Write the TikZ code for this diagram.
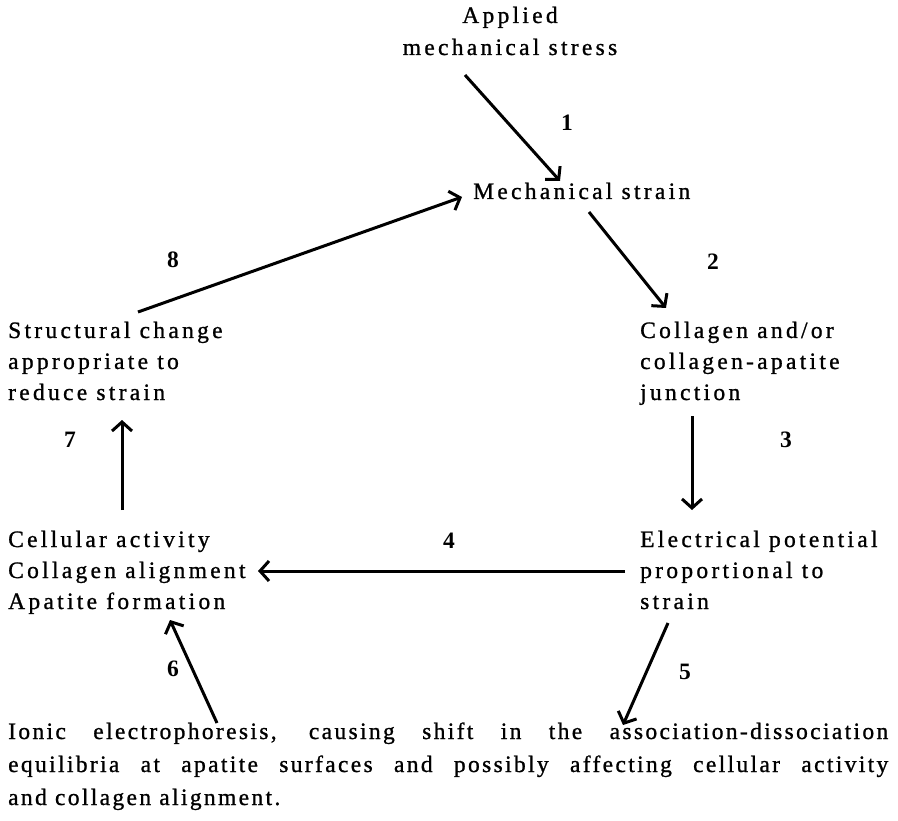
\documentclass[tikz,border=0pt]{standalone}
\usepackage{fontspec}
\setmainfont{Liberation Serif}
\newfontfamily\txtfont{Liberation Serif}[LetterSpace=14,FakeBold=1]
\newfontfamily\parfont{Liberation Serif}[LetterSpace=10,FakeBold=1]
\usetikzlibrary{arrows.meta}
\begin{document}
\begin{tikzpicture}[x=1pt,y=-1pt,
  lbl/.style={inner sep=0pt,anchor=base west,font=\fontsize{23.5}{31}\txtfont},
  clbl/.style={inner sep=0pt,anchor=base,font=\fontsize{23.5}{31}\txtfont},
  plbl/.style={inner sep=0pt,anchor=base west,font=\fontsize{23.5}{31}\parfont},
  num/.style={inner sep=0pt,anchor=center,font=\fontsize{23.5}{31}\selectfont\bfseries},
  arr/.style={line width=3pt,-{Straight Barb[length=9pt,width=20pt,line width=3pt]}}]
\useasboundingbox (0,0) rectangle (898,821);
% texts
\node[clbl] (app1) at (510,23) {Applied};
\node[clbl] (app2) at (510,55) {mechanical stress};
\node[lbl] (ms) at (473,199) {Mechanical strain};
\node[lbl] (sc1) at (8,338) {Structural change};
\node[lbl] (sc2) at (8,369) {appropriate to};
\node[lbl] (sc3) at (8,400) {reduce strain};
\node[lbl] (co1) at (640,338) {Collagen and/or};
\node[lbl] (co2) at (640,369) {collagen-apatite};
\node[lbl] (co3) at (640,400) {junction};
\node[lbl] (ce1) at (8,547) {Cellular activity};
\node[lbl] (ce2) at (8,578) {Collagen alignment};
\node[lbl] (ce3) at (8,609) {Apatite formation};
\node[lbl] (el1) at (640,547) {Electrical potential};
\node[lbl] (el2) at (640,578) {proportional to};
\node[lbl] (el3) at (640,609) {strain};
\node[plbl] (io1) at (8,739) {\makebox[880pt][s]{Ionic electrophoresis, causing shift in the association-dissociation}};
\node[plbl] (io2) at (8,772) {\makebox[880pt][s]{equilibria at apatite surfaces and possibly affecting cellular activity}};
\node[plbl] (io3) at (8,805) {and collagen alignment.};
% numbers
\node[num] (n1) at (567,123) {1};
\node[num] (n2) at (713,262) {2};
\node[num] (n3) at (786,440) {3};
\node[num] (n4) at (449,541) {4};
\node[num] (n5) at (685,672) {5};
\node[num] (n6) at (173,669) {6};
\node[num] (n7) at (70,440) {7};
\node[num] (n8) at (173,260) {8};
% arrow end points
\coordinate (a1s) at (465,75);  \coordinate (a1e) at (560,181);
\coordinate (a2s) at (589,212); \coordinate (a2e) at (666,308);
\coordinate (a3s) at (692,416); \coordinate (a3e) at (692,510);
\coordinate (a4s) at (625,571); \coordinate (a4e) at (258,571);
\coordinate (a5s) at (668,623); \coordinate (a5e) at (623,725);
\coordinate (a6s) at (217,723); \coordinate (a6e) at (170,620);
\coordinate (a7s) at (122,510); \coordinate (a7e) at (122,420);
\coordinate (a8s) at (138,312); \coordinate (a8e) at (462,197);
\draw[arr] (a1s) -- (a1e);
\draw[arr] (a2s) -- (a2e);
\draw[arr] (a3s) -- (a3e);
\draw[arr] (a4s) -- (a4e);
\draw[arr] (a5s) -- (a5e);
\draw[arr] (a6s) -- (a6e);
\draw[arr] (a7s) -- (a7e);
\draw[arr] (a8s) -- (a8e);
\end{tikzpicture}
\end{document}
